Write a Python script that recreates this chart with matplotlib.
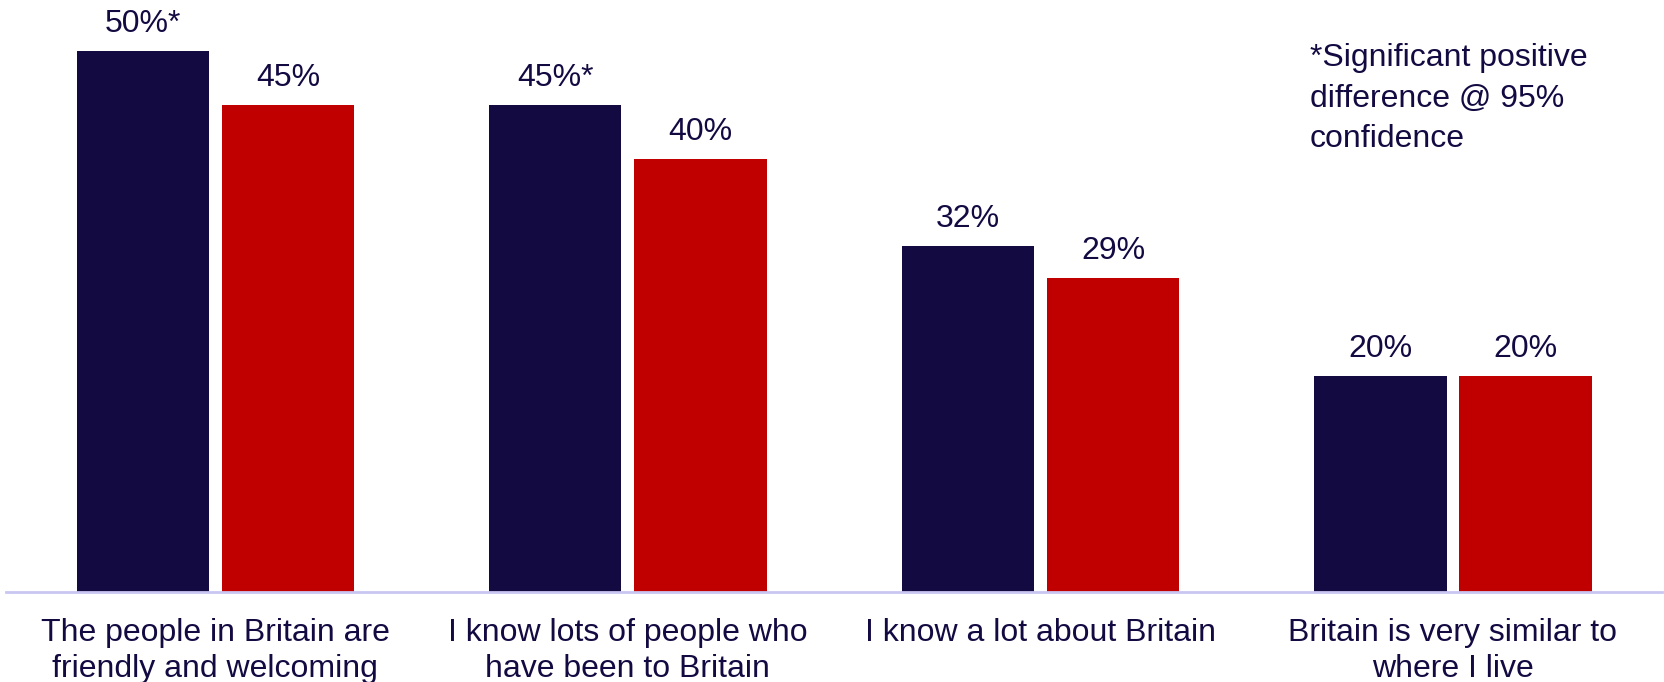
import matplotlib
matplotlib.use("Agg")
import matplotlib.pyplot as plt
import numpy as np

plt.rcParams['font.family'] = ['Liberation Sans', 'DejaVu Sans']

categories = ["The people in Britain are\nfriendly and welcoming",
              "I know lots of people who\nhave been to Britain",
              "I know a lot about Britain",
              "Britain is very similar to\nwhere I live"]
series_a = [50, 45, 32, 20]
series_b = [45, 40, 29, 20]
labels_a = ["50%*", "45%*", "32%", "20%"]
labels_b = ["45%", "40%", "29%", "20%"]
note_lines = ["*Significant positive", "difference @ 95%", "confidence"]

navy = "#140A42"
red = "#C00000"
text_col = "#140A42"

fig = plt.figure(figsize=(16.64, 6.82), dpi=100)
ax = fig.add_axes([6/1664, 90/682, 1656/1664, 591/682])

x = np.arange(len(categories))
w = 0.321
off = 0.176
bars_a = ax.bar(x - off, series_a, width=w, color=navy)
bars_b = ax.bar(x + off, series_b, width=w, color=red)

for bars, labs in ((bars_a, labels_a), (bars_b, labels_b)):
    for b, lab in zip(bars, labs):
        ax.annotate(lab, (b.get_x() + b.get_width()/2, b.get_height()),
                    xytext=(0, 13.5), textcoords="offset points",
                    ha="center", va="baseline", fontsize=23, color=text_col)

ax.set_xlim(-0.5076, 3.5069)
ax.set_ylim(0, 54.6)
ax.set_xticks(x)
ax.set_xticklabels(categories, fontsize=23, color=text_col, linespacing=1.26)
ax.tick_params(axis='x', length=0, pad=18.5)
ax.set_yticks([])
for s in ("top", "right", "left"):
    ax.spines[s].set_visible(False)
ax.spines["bottom"].set_color("#C9C6F2")
ax.spines["bottom"].set_linewidth(2)

for i, line in enumerate(note_lines):
    fig.text(1310/1664, 1 - (66 + 40.5*i)/682, line, fontsize=23, color=text_col,
             ha="left", va="baseline")

fig.savefig("out.png", dpi=100)
